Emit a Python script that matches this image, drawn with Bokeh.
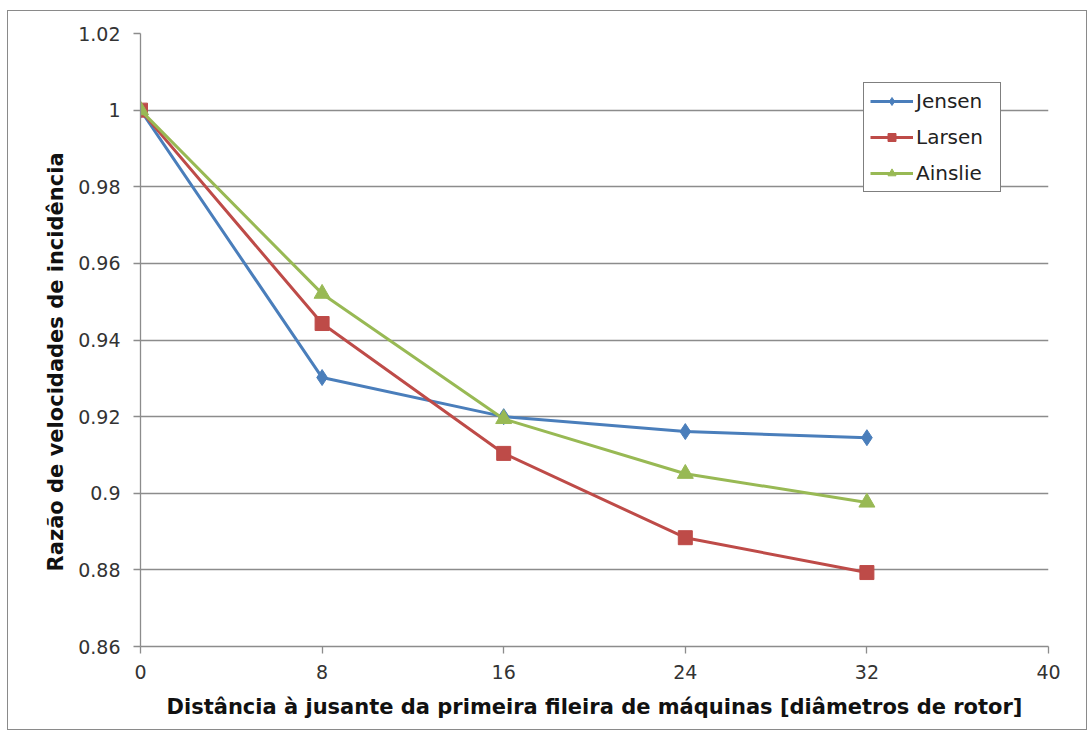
from bokeh.plotting import figure
from bokeh.models import Legend, LegendItem, FixedTicker, Range1d
from bokeh.embed import file_html
from bokeh.resources import INLINE

x_vals = [0, 8, 16, 24, 32]
jensen = [1.0, 0.9302, 0.9200, 0.9161, 0.9145]
larsen = [1.0, 0.9443, 0.9104, 0.8884, 0.8793]
ainslie = [1.0, 0.9521, 0.9194, 0.9051, 0.8976]
x_ticks = [0, 8, 16, 24, 32, 40]
y_ticks = [0.86, 0.88, 0.90, 0.92, 0.94, 0.96, 0.98, 1.00, 1.02]
y_tick_labels = {0.86: "0.86", 0.88: "0.88", 0.90: "0.9", 0.92: "0.92", 0.94: "0.94",
                 0.96: "0.96", 0.98: "0.98", 1.00: "1", 1.02: "1.02"}
x_title = "Distância à jusante da primeira fileira de máquinas [diâmetros de rotor]"
y_title = "Razão de velocidades de incidência"

FONT = "DejaVu Sans"
GRID = "#8c8c8c"

p = figure(width=1080, height=720, output_backend="svg", toolbar_location=None,
           x_range=Range1d(0, 40), y_range=Range1d(0.86, 1.02),
           min_border_left=132, min_border_right=40, min_border_top=22, min_border_bottom=85)
p.margin = (10, 0, 0, 7)
p.styles = {"border": "1px solid #8a8a8a"}
p.outline_line_color = None
p.background_fill_color = "white"
p.border_fill_color = "white"

p.xgrid.grid_line_color = None
p.ygrid.grid_line_color = GRID
p.ygrid.grid_line_width = 1.3

p.xaxis.ticker = FixedTicker(ticks=x_ticks)
p.yaxis.ticker = FixedTicker(ticks=y_ticks)
p.yaxis.major_label_overrides = {k: v for k, v in y_tick_labels.items()}
for ax in (p.xaxis, p.yaxis):
    ax.axis_line_color = GRID
    ax.axis_line_width = 1.3
    ax.major_tick_line_color = GRID
    ax.major_tick_line_width = 1.3
    ax.major_tick_out = 7
    ax.major_tick_in = 0
    ax.minor_tick_line_color = None
    ax.major_label_text_font = FONT
    ax.major_label_text_font_size = "19px"
    ax.major_label_text_color = "#333333"
    ax.axis_label_text_font = FONT
    ax.axis_label_text_font_style = "bold"
    ax.axis_label_text_font_size = "21px"
    ax.axis_label_text_color = "#111111"

p.xaxis.major_label_standoff = 11
p.yaxis.major_label_standoff = 13
p.xaxis.axis_label = x_title
p.xaxis.axis_label_standoff = 13
# trailing no-break spaces shift the centred title down, as in the original
p.yaxis.axis_label = y_title + "\u00a0" * 6
p.yaxis.axis_label_standoff = 7

series = [
    ("Jensen", jensen, "#4A7EBB", "diamond", 16),
    ("Larsen", larsen, "#BE4B48", "square", 14),
    ("Ainslie", ainslie, "#98B954", "triangle", 16),
]
items = []
for name, ys, color, marker, size in series:
    l = p.line(x_vals, ys, line_color=color, line_width=3)
    s = p.scatter(x_vals, ys, marker=marker, size=size, fill_color=color, line_color=color)
    items.append(LegendItem(label=name, renderers=[l, s]))

legend = Legend(items=items, location=(723, 454))
legend.border_line_color = "black"
legend.border_line_width = 1.5
legend.background_fill_alpha = 1
legend.label_text_font = FONT
legend.label_text_font_size = "20px"
legend.label_text_color = "#222222"
legend.padding = 6
legend.margin = 0
legend.spacing = 12
legend.glyph_width = 43
legend.glyph_height = 20
legend.label_standoff = 3
legend.label_height = 20
legend.label_width = 78
p.add_layout(legend)

open("out.html", "w").write(file_html(p, INLINE))
